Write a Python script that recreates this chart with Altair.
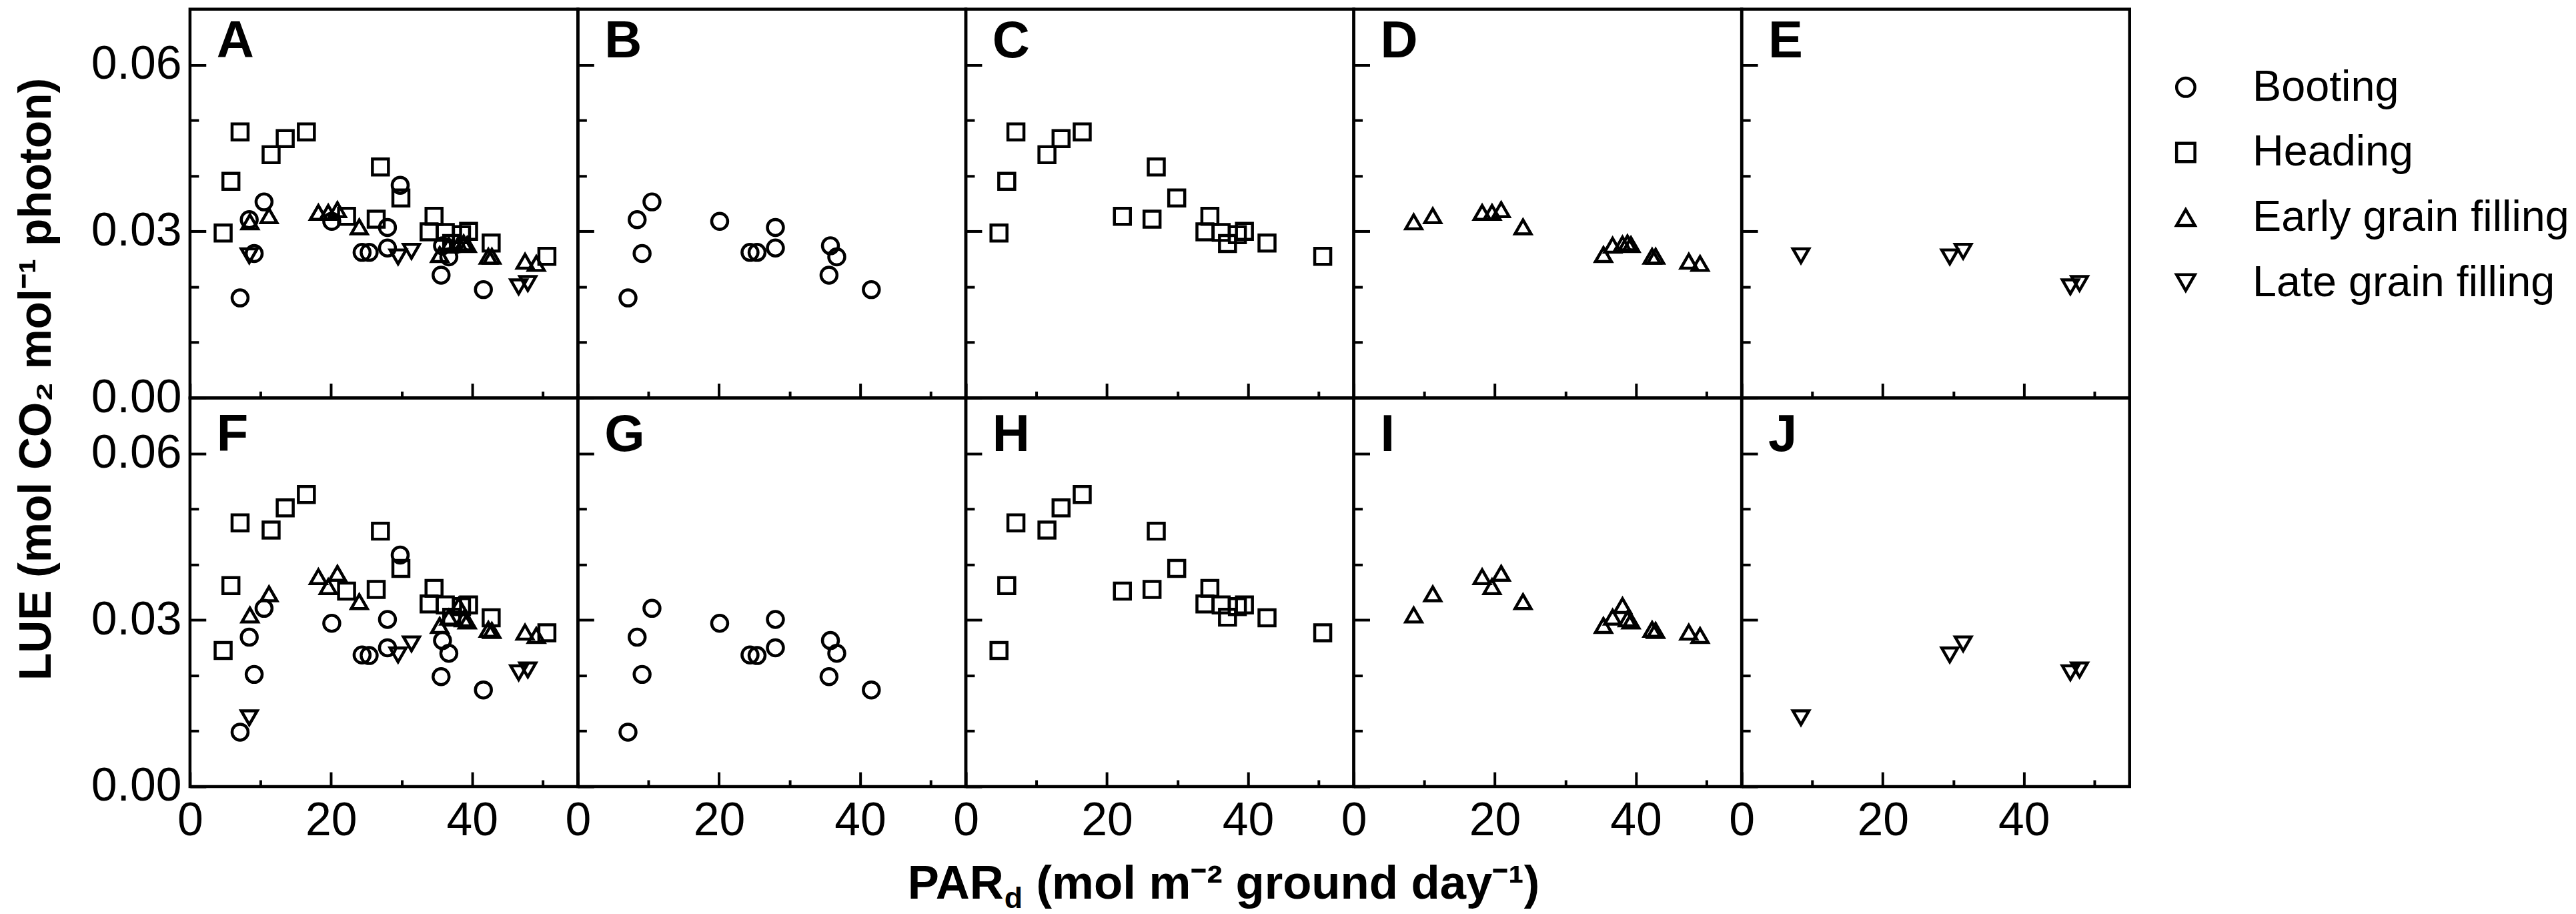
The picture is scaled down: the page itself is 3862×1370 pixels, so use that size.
import altair as alt
import pandas as pd

FONT = "Liberation Sans, Arial, Helvetica, sans-serif"

stages = ["Booting", "Heading", "Early grain filling", "Late grain filling"]
shapes = ["circle", "square", "triangle-up", "triangle-down"]

top_letters = ["A", "B", "C", "D", "E"]
bottom_letters = ["F", "G", "H", "I", "J"]

y_tick_values = [0, 0.01, 0.02, 0.03, 0.04, 0.05, 0.06]
x_tick_values = [0, 10, 20, 30, 40, 50]

# Booting
booting_x = [7.1, 8.4, 9.1, 10.5, 20.1, 24.4, 25.4, 28.0, 28.0, 35.8, 36.7, 35.6, 41.6]
booting_top = [0.0180, 0.0321, 0.0260, 0.0353, 0.0318, 0.0262, 0.0262, 0.0307, 0.0270, 0.0274, 0.0254, 0.0221, 0.0195]
booting_bottom = [0.0098, 0.0269, 0.0202, 0.0321, 0.0294, 0.0237, 0.0236, 0.0301, 0.0250, 0.0263, 0.0240, 0.0198, 0.0174]
# booting point shown only in the combined panels (A, F)
booting_extra_x = [29.8]
booting_extra_top = [0.0383]
booting_extra_bottom = [0.0417]

# Heading
heading_x = [4.7, 5.8, 7.1, 11.5, 13.5, 16.5, 22.2, 26.4, 27.0, 29.9, 34.6, 33.9, 36.2, 37.1, 38.5, 39.5, 42.7, 50.6]
heading_top = [0.0297, 0.0390, 0.0479, 0.0438, 0.0467, 0.0479, 0.0327, 0.0322, 0.0416, 0.0360, 0.0327, 0.0299,
               0.0298, 0.0278, 0.0294, 0.0300, 0.0279, 0.0255]
heading_bottom = [0.0245, 0.0362, 0.0475, 0.0462, 0.0502, 0.0526, 0.0352, 0.0355, 0.0460, 0.0393, 0.0357, 0.0329,
                  0.0327, 0.0305, 0.0324, 0.0327, 0.0304, 0.0277]

# Early grain filling
early_x = [8.5, 11.2, 18.2, 19.6, 20.9, 24.0, 35.4, 36.7, 38.1, 38.8, 39.3, 42.3, 42.8, 47.5, 49.1]
early_top = [0.0317, 0.0328, 0.0334, 0.0334, 0.0339, 0.0308, 0.0258, 0.0275, 0.0277, 0.0279, 0.0276, 0.0255,
             0.0255, 0.0246, 0.0242]
early_bottom = [0.0309, 0.0347, 0.0378, 0.0360, 0.0384, 0.0333, 0.0290, 0.0305, 0.0326, 0.0302, 0.0298, 0.0283,
                0.0281, 0.0278, 0.0272]

# Late grain filling
late_x = [8.4, 29.5, 31.4, 46.6, 47.9]
late_top = [0.0256, 0.0254, 0.0264, 0.0200, 0.0206]
late_bottom = [0.0124, 0.0237, 0.0257, 0.0205, 0.0210]

records = []


def add(stage, xs, tops, bottoms, combined_only=0):
    for x, t, b in zip(xs, tops, bottoms):
        records.append({"stage": stage, "x": x, "y": t, "row": "top", "combined_only": combined_only})
        records.append({"stage": stage, "x": x, "y": b, "row": "bottom", "combined_only": combined_only})


add("Booting", booting_x, booting_top, booting_bottom)
add("Booting", booting_extra_x, booting_extra_top, booting_extra_bottom, combined_only=1)
add("Heading", heading_x, heading_top, heading_bottom)
add("Early grain filling", early_x, early_top, early_bottom)
add("Late grain filling", late_x, late_top, late_bottom)
df = pd.DataFrame(records)

PW, PH = 584, 585
LABEL_SIZE = 70


def make_panel(row, col, letter):
    base = alt.Chart(df)
    if col == 0:
        base = base.transform_filter(alt.datum.row == row)
    else:
        st = stages[col - 1]
        base = base.transform_filter(
            (alt.datum.row == row) & (alt.datum.stage == st) & (alt.datum.combined_only == 0)
        )

    yaxis = alt.Axis(
        values=y_tick_values, format=".2f", labels=(col == 0),
        labelExpr="round(datum.value*100) % 3 == 0 ? datum.label : ''",
        tickSize={"condition": {"test": "round(datum.value*100) % 3 == 0", "value": -24}, "value": -13},
        labelPadding=37, domain=False, grid=False, tickWidth=4, tickColor="black",
        labelFont=FONT, labelFontSize=LABEL_SIZE, labelColor="black", labelFlush=False,
        labelOverlap=False, title=None,
    )
    xaxis = alt.Axis(
        values=x_tick_values, labels=(row == "bottom"),
        labelExpr="datum.value % 20 == 0 ? datum.label : ''",
        tickSize={"condition": {"test": "datum.value % 20 == 0", "value": -22}, "value": -10},
        labelPadding=40, domain=False, grid=False, tickWidth=4, tickColor="black",
        labelFont=FONT, labelFontSize=LABEL_SIZE, labelColor="black", labelFlush=False,
        labelOverlap=False, title=None,
    )

    pts = base.mark_point(filled=False, size=580, strokeWidth=4.5, color="black", opacity=1).encode(
        x=alt.X("x:Q", scale=alt.Scale(domain=[0, 55], nice=False, zero=False), axis=xaxis),
        y=alt.Y("y:Q", scale=alt.Scale(domain=[0, 0.07], nice=False), axis=yaxis),
        shape=alt.Shape("stage:N", scale=alt.Scale(domain=stages, range=shapes), title=None),
    )

    letter_y = 72 if row == "top" else 80
    lab = alt.Chart(pd.DataFrame({"t": [letter]})).mark_text(
        font=FONT, fontSize=78, fontWeight="bold", align="left", baseline="alphabetic", color="black"
    ).encode(text="t:N", x=alt.value(40), y=alt.value(letter_y))

    layers = [pts, lab]

    if row == "top" and col == 0:
        ytitle = alt.Chart(pd.DataFrame({"t": ["LUE (mol CO\u2082 mol\u207b\u00b9 photon)"]})).mark_text(
            font=FONT, fontSize=68, fontWeight="bold", angle=270, align="center", baseline="middle",
            color="black"
        ).encode(text="t:N", x=alt.value(-230), y=alt.value(557))
        layers.append(ytitle)

    if row == "bottom" and col == 2:
        base_y = 754
        p_x = 57
        t1 = alt.Chart(pd.DataFrame({"t": ["PAR"]})).mark_text(
            font=FONT, fontSize=71, fontWeight="bold", align="right", baseline="alphabetic", color="black"
        ).encode(text="t:N", x=alt.value(p_x), y=alt.value(base_y))
        t2 = alt.Chart(pd.DataFrame({"t": ["d"]})).mark_text(
            font=FONT, fontSize=45, fontWeight="bold", align="left", baseline="alphabetic", color="black"
        ).encode(text="t:N", x=alt.value(p_x + 1), y=alt.value(base_y + 14))
        t3 = alt.Chart(pd.DataFrame({"t": ["(mol m\u207b\u00b2 ground day\u207b\u00b9)"]})).mark_text(
            font=FONT, fontSize=71, fontWeight="bold", align="left", baseline="alphabetic", color="black"
        ).encode(text="t:N", x=alt.value(p_x + 49), y=alt.value(base_y))
        layers += [t1, t2, t3]

    return alt.layer(*layers).properties(width=PW, height=PH)


panels = []
for col in range(5):
    panels.append(make_panel("top", col, top_letters[col]))
for col in range(5):
    panels.append(make_panel("bottom", col, bottom_letters[col]))

chart = alt.concat(*panels, columns=5, spacing=0, bounds="flush").properties(
    padding={"left": 11, "top": 0, "right": 2, "bottom": 2}
).configure_view(
    stroke="black", strokeWidth=4.5
).configure_legend(
    orient="none", legendX=2972, legendY=85, padding=0,
    labelFont=FONT, labelFontSize=65, labelColor="black", labelOffset=68, labelLimit=1000,
    symbolSize=760, symbolStrokeWidth=4.5, symbolStrokeColor="black", rowPadding=32,
)

chart.save("out.html", embed_options={"renderer": "svg", "actions": False})
